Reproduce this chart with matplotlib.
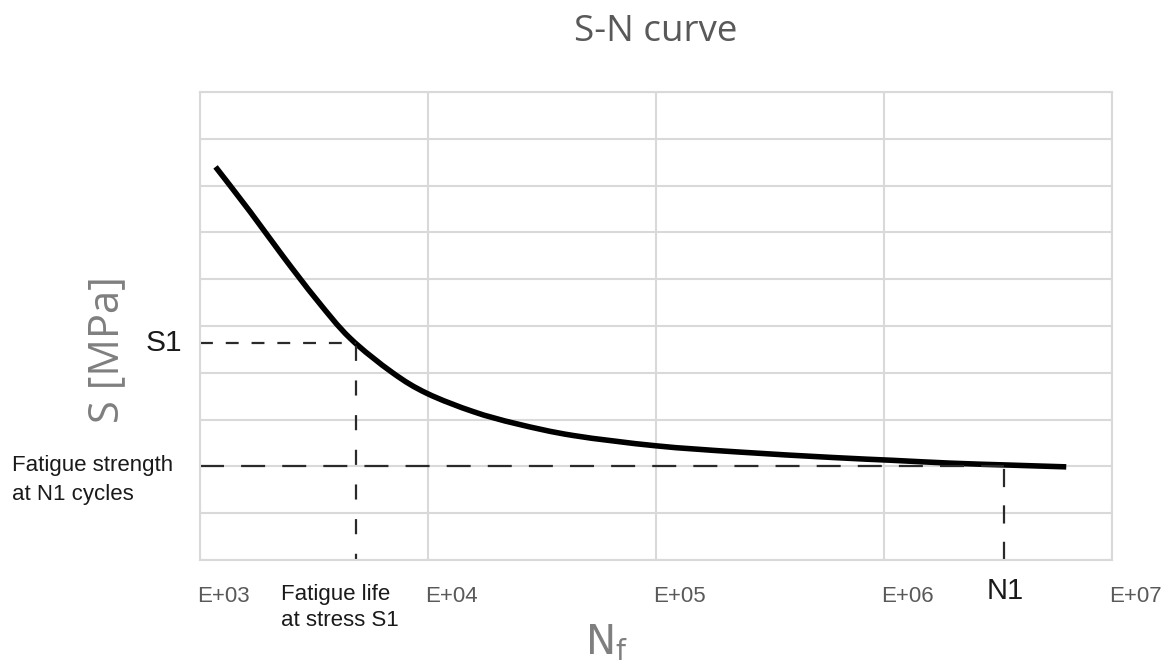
import numpy as np
import matplotlib.pyplot as plt
import matplotlib.transforms as mtransforms
from matplotlib.path import Path
from matplotlib.patches import PathPatch

# S-N curve
cycles = [1.17e3, 1.66e3, 2.32e3, 3.25e3, 4.55e3, 7.0e3, 9.9e3, 1.58e4, 2.45e4,
          4.34e4, 1.0e5, 2.26e5, 5.97e5, 1.09e6, 1.95e6, 3.45e6, 6.3e6]
stress = [8.40, 7.44, 6.48, 5.56, 4.74, 4.00, 3.56, 3.17, 2.91,
          2.66, 2.44, 2.31, 2.19, 2.13, 2.07, 2.03, 1.99]

s1 = 4.64
n_s1 = 4.83e3
s_fat = 2.0
n1 = 3.36e6

decades = [1e3, 1e4, 1e5, 1e6, 1e7]
decade_labels = ["E+03", "E+04", "E+05", "E+06", "E+07"]
y_grid = list(range(0, 11))

W, H = 1169, 664
fig = plt.figure(figsize=(W / 100, H / 100), dpi=100)
ax = fig.add_axes([200/W, 104/H, 912/W, 468/H])

def px(x, y):
    return x / W, 1 - y / H

ax.set_xscale("log")
ax.set_xlim(1e3, 1e7)
ax.set_ylim(0, 10)

grid_col = "#d9d9d9"
ax.set_xticks(decades)
ax.set_xticklabels(decade_labels)
ax.xaxis.set_minor_locator(plt.NullLocator())
ax.set_yticks(y_grid)
ax.set_yticklabels([])
ax.tick_params(length=0)
ax.tick_params(axis="x", pad=18.5, labelsize=16, labelcolor="#595959")
shift = mtransforms.ScaledTranslation(-3 / 100, 0, fig.dpi_scale_trans)
for lab in ax.get_xticklabels():
    lab.set_fontfamily("Liberation Sans")
    lab.set_horizontalalignment("left")
    lab.set_transform(lab.get_transform() + shift)
ax.grid(True, color=grid_col, lw=1.5)
for sp in ax.spines.values():
    sp.set_color(grid_col)
    sp.set_linewidth(1.5)
ax.set_axisbelow(True)

dcol = "#2a2a2a"
ax.plot([1e3, n_s1], [s1, s1], color=dcol, lw=1.6, linestyle=(0, (5.8, 5.8)))
ax.plot([n_s1, n_s1], [0, s1], color=dcol, lw=1.6, linestyle=(4, (6.8, 8.8)))
ax.plot([1e3, n1], [s_fat, s_fat], color=dcol, lw=1.6, linestyle=(0, (10.8, 7.7)))
ax.plot([n1, n1], [0, s_fat], color=dcol, lw=1.6, linestyle=(0, (8.2, 8.2)))

# smooth path through the read points (Catmull-Rom as cubic Bezier, log-x space)
lx = np.log10(cycles)
ly = np.array(stress)
pts = np.column_stack([lx, ly])
ext = np.vstack([pts[0], pts, pts[-1]])
verts = [pts[0]]
codes = [Path.MOVETO]
for i in range(len(pts) - 1):
    p0, p1, p2, p3 = ext[i], ext[i + 1], ext[i + 2], ext[i + 3]
    verts += [p1 + (p2 - p0) / 6, p2 - (p3 - p1) / 6, p2]
    codes += [Path.CURVE4] * 3
verts = np.array(verts)
verts[:, 0] = 10 ** verts[:, 0]
ax.add_patch(PathPatch(Path(verts, codes), fill=False, edgecolor="black",
                       lw=4.0, capstyle="butt", transform=ax.transData))

txt = dict(family="Liberation Sans", color="#1a1a1a")
fig.text(*px(182, 343), "S1", ha="right", va="center", fontsize=21.5, **txt)
fig.text(*px(12, 455), "Fatigue strength\nat N1 cycles", ha="left", va="top",
         fontsize=16, linespacing=1.5, **txt)
fig.text(*px(1005, 591), "N1", ha="center", va="center", fontsize=21, **txt)
fig.text(*px(281, 584), "Fatigue life\nat stress S1", ha="left", va="top",
         fontsize=16, linespacing=1.3, **txt)

fig.text(*px(107, 350), "S [MPa]", rotation=90, ha="center", va="center",
         fontsize=30, color="#7f7f7f", family="Open Sans")
fig.text(*px(606, 643), "N$_\\mathrm{f}$", ha="center", va="center",
         fontsize=29, color="#7f7f7f")
fig.text(*px(656, 32), "S-N curve", ha="center", va="center",
         fontsize=26.5, color="#595959", family="Open Sans")

fig.savefig("out.png", dpi=100)
